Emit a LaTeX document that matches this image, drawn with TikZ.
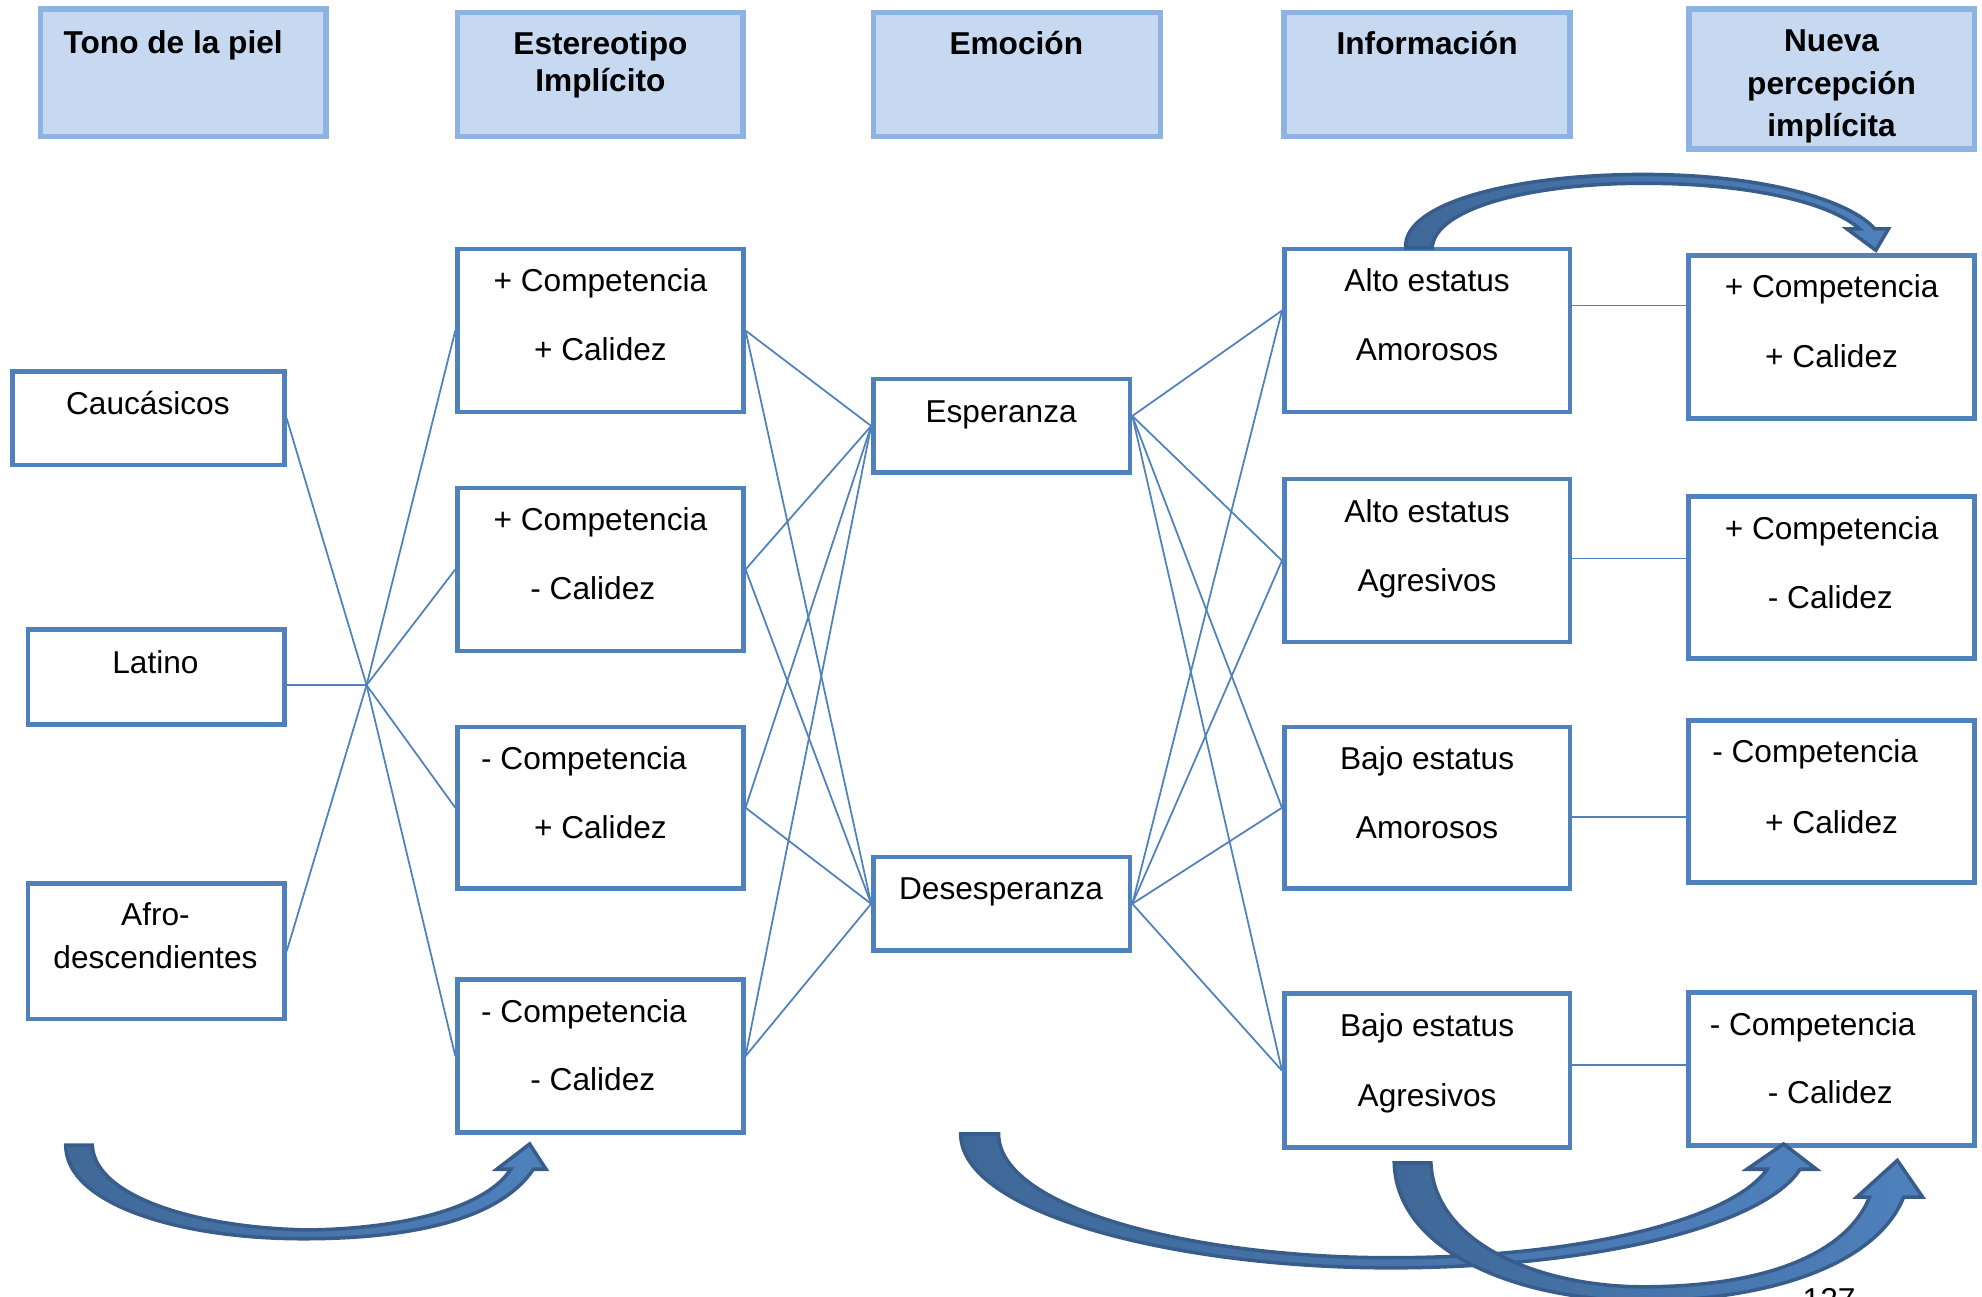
\documentclass[tikz,border=0pt]{standalone}
\usepackage{fontspec}
\setmainfont{Liberation Sans}
\definecolor{hdfill}{HTML}{C6D9F1}
\definecolor{hdline}{HTML}{8DB3E2}
\definecolor{boxline}{HTML}{4F81BD}
\definecolor{arrline}{HTML}{385D8A}
\definecolor{arrdark}{HTML}{3F6898}
\begin{document}
\begin{tikzpicture}[
    x=0.1264mm, y=-0.1264mm,
    box/.style 2 args={draw=boxline, line width=1.3pt, fill=white, inner sep=0pt,
        minimum width=#1*0.1264mm, minimum height=#2*0.1264mm},
    hdbox/.style 2 args={draw=hdline, line width=1.6pt, fill=hdfill, inner sep=0pt,
        minimum width=#1*0.1264mm, minimum height=#2*0.1264mm},
    lab/.style={anchor=base, inner sep=0pt, font=\fontsize{9}{11}\selectfont},
    hlab/.style={anchor=base, inner sep=0pt, font=\fontsize{9}{11}\selectfont\bfseries},
    edge/.style={draw=boxline, line width=0.5pt},
    bigarrow/.style={draw=arrline, line width=1pt, left color=arrdark, right color=boxline}
]
\useasboundingbox (0,0) rectangle (1568,1026);

% headers
\node[hdbox={226}{101}] (hd1) at (145,57.5) {};
\node[hdbox={226}{98}] (hd2) at (475,59) {};
\node[hdbox={227}{98}] (hd3) at (804.5,59) {};
\node[hdbox={226}{98}] (hd4) at (1129,59) {};
\node[hdbox={226}{111}] (hd5) at (1449,62.5) {};

\node[hlab] (hd1a) at (137,42) {Tono de la piel};
\node[hlab] (hd2a) at (475,43) {Estereotipo};
\node[hlab] (hd2b) at (475,72) {Implícito};
\node[hlab] (hd3a) at (804,43) {Emoción};
\node[hlab] (hd4a) at (1129,43) {Información};
\node[hlab] (hd5a) at (1449,41) {Nueva};
\node[hlab] (hd5b) at (1449,75) {percepción};
\node[hlab] (hd5c) at (1449,108) {implícita};

% tono de la piel
\node[box={215}{74}] (cau) at (117.5,331) {};
\node[box={203}{75}] (lat) at (123.5,535.5) {};
\node[box={203}{107}] (afr) at (123.5,752.5) {};

\node[lab] (caua) at (117,328) {Caucásicos};
\node[lab] (lata) at (123,533) {Latino};
\node[lab] (afra) at (123,732) {Afro-};
\node[lab] (afrb) at (123,766) {descendientes};

% estereotipo
\node[box={226}{129}] (s1) at (475,261.5) {};
\node[box={226}{129}] (s2) at (475,450.5) {};
\node[box={226}{128}] (s3) at (475,639) {};
\node[box={226}{121}] (s4) at (475,835.5) {};

\node[lab] (s1a) at (475,231) {+ Competencia};
\node[lab] (s1b) at (475,285) {+ Calidez};
\node[lab] (s2a) at (475,420) {+ Competencia};
\node[lab] (s2b) at (469,474) {- Calidez};
\node[lab] (s3a) at (462,609) {- Competencia};
\node[lab] (s3b) at (475,663) {+ Calidez};
\node[lab] (s4a) at (462,809) {- Competencia};
\node[lab] (s4b) at (469,863) {- Calidez};

% emocion
\node[box={203}{74}] (esp) at (792.5,337) {};
\node[box={203}{74}] (des) at (792.5,715) {};

\node[lab] (espa) at (792,334) {Esperanza};
\node[lab] (desa) at (792,712) {Desesperanza};

% informacion
\node[box={226}{129}] (i1) at (1129,261.5) {};
\node[box={226}{129}] (i2) at (1129,443.5) {};
\node[box={226}{128}] (i3) at (1129,639) {};
\node[box={226}{122}] (i4) at (1129,847) {};

\node[lab] (i1a) at (1129,231) {Alto estatus};
\node[lab] (i1b) at (1129,285) {Amorosos};
\node[lab] (i2a) at (1129,413) {Alto estatus};
\node[lab] (i2b) at (1129,468) {Agresivos};
\node[lab] (i3a) at (1129,609) {Bajo estatus};
\node[lab] (i3b) at (1129,663) {Amorosos};
\node[lab] (i4a) at (1129,820) {Bajo estatus};
\node[lab] (i4b) at (1129,875) {Agresivos};

% nueva percepcion
\node[box={226}{129}] (n1) at (1449,266.5) {};
\node[box={226}{128}] (n2) at (1449,457) {};
\node[box={226}{128}] (n3) at (1449,634) {};
\node[box={226}{121}] (n4) at (1449,845.5) {};

\node[lab] (n1a) at (1449,235) {+ Competencia};
\node[lab] (n1b) at (1449,291) {+ Calidez};
\node[lab] (n2a) at (1449,427) {+ Competencia};
\node[lab] (n2b) at (1448,481) {- Calidez};
\node[lab] (n3a) at (1436,603) {- Competencia};
\node[lab] (n3b) at (1449,659) {+ Calidez};
\node[lab] (n4a) at (1434,819) {- Competencia};
\node[lab] (n4b) at (1448,873) {- Calidez};

\node[lab, anchor=north] (pg) at (1447,1019) {127};

% connectors
\coordinate (hub) at (290,542);
\draw[edge] (cau.east) -- (hub);
\draw[edge] (hub -| lat.east) -- (hub);
\draw[edge] (afr.east) -- (hub);
\draw[edge] (hub) -- (s1.west);
\draw[edge] (hub) -- (s2.west);
\draw[edge] (hub) -- (s3.west);
\draw[edge] (hub) -- (s4.west);

\draw[edge] (s1.east) -- (esp.west);
\draw[edge] (s1.east) -- (des.west);
\draw[edge] (s2.east) -- (esp.west);
\draw[edge] (s2.east) -- (des.west);
\draw[edge] (s3.east) -- (esp.west);
\draw[edge] (s3.east) -- (des.west);
\draw[edge] (s4.east) -- (esp.west);
\draw[edge] (s4.east) -- (des.west);

\draw[edge] ([yshift=1mm]esp.east) -- ([yshift=2mm]i1.west);
\draw[edge] ([yshift=1mm]esp.east) -- (i2.west);
\draw[edge] ([yshift=1mm]esp.east) -- (i3.west);
\draw[edge] ([yshift=1mm]esp.east) -- (i4.west);
\draw[edge] (des.east) -- ([yshift=2mm]i1.west);
\draw[edge] (des.east) -- (i2.west);
\draw[edge] (des.east) -- (i3.west);
\draw[edge] (des.east) -- (i4.west);

\draw[edge] ([yshift=2.5mm]i1.east) -- ([yshift=2.5mm]i1.east -| n1.west);
\draw[edge] ([yshift=0.2mm]i2.east) -- ([yshift=0.2mm]i2.east -| n2.west);
\draw[edge] ([yshift=-0.9mm]i3.east) -- ([yshift=-0.9mm]i3.east -| n3.west);
\draw[edge] ([yshift=0.6mm]i4.east) -- ([yshift=0.6mm]i4.east -| n4.west);

% curved arrows
\shadedraw[bigarrow] (52,906) -- (73,906)
    .. controls (75,948) and (160,972) .. (245,973)
    .. controls (320,972) and (385,955) .. (404,925)
    -- (393,925) -- (419,905) -- (432,925) -- (422,925)
    .. controls (395,965) and (325,980) .. (240,980)
    .. controls (140,980) and (52,952) .. (52,906) -- cycle;

\shadedraw[bigarrow] (1112,196)
    .. controls (1110,160) and (1200,138) .. (1300,138)
    .. controls (1400,138) and (1465,160) .. (1483,181)
    -- (1494,181) -- (1484,198) -- (1461,181) -- (1471,181)
    .. controls (1450,162) and (1390,145) .. (1300,145)
    .. controls (1210,145) and (1135,165) .. (1133,196) -- cycle;

\shadedraw[bigarrow] (760,897) -- (790,897)
    .. controls (790,955) and (940,995) .. (1100,995)
    .. controls (1250,995) and (1370,965) .. (1398,925)
    -- (1382,925) -- (1411,905) -- (1437,925) -- (1424,925)
    .. controls (1395,970) and (1260,1003) .. (1100,1003)
    .. controls (930,1003) and (760,960) .. (760,897) -- cycle;

\shadedraw[bigarrow] (1103,920) -- (1132,920)
    .. controls (1135,985) and (1220,1018) .. (1300,1018)
    .. controls (1400,1018) and (1462,990) .. (1479,947)
    -- (1469,947) -- (1501,918) -- (1521,947) -- (1506,947)
    .. controls (1485,1000) and (1400,1029) .. (1300,1029)
    .. controls (1200,1029) and (1105,990) .. (1103,920) -- cycle;
\end{tikzpicture}
\end{document}
